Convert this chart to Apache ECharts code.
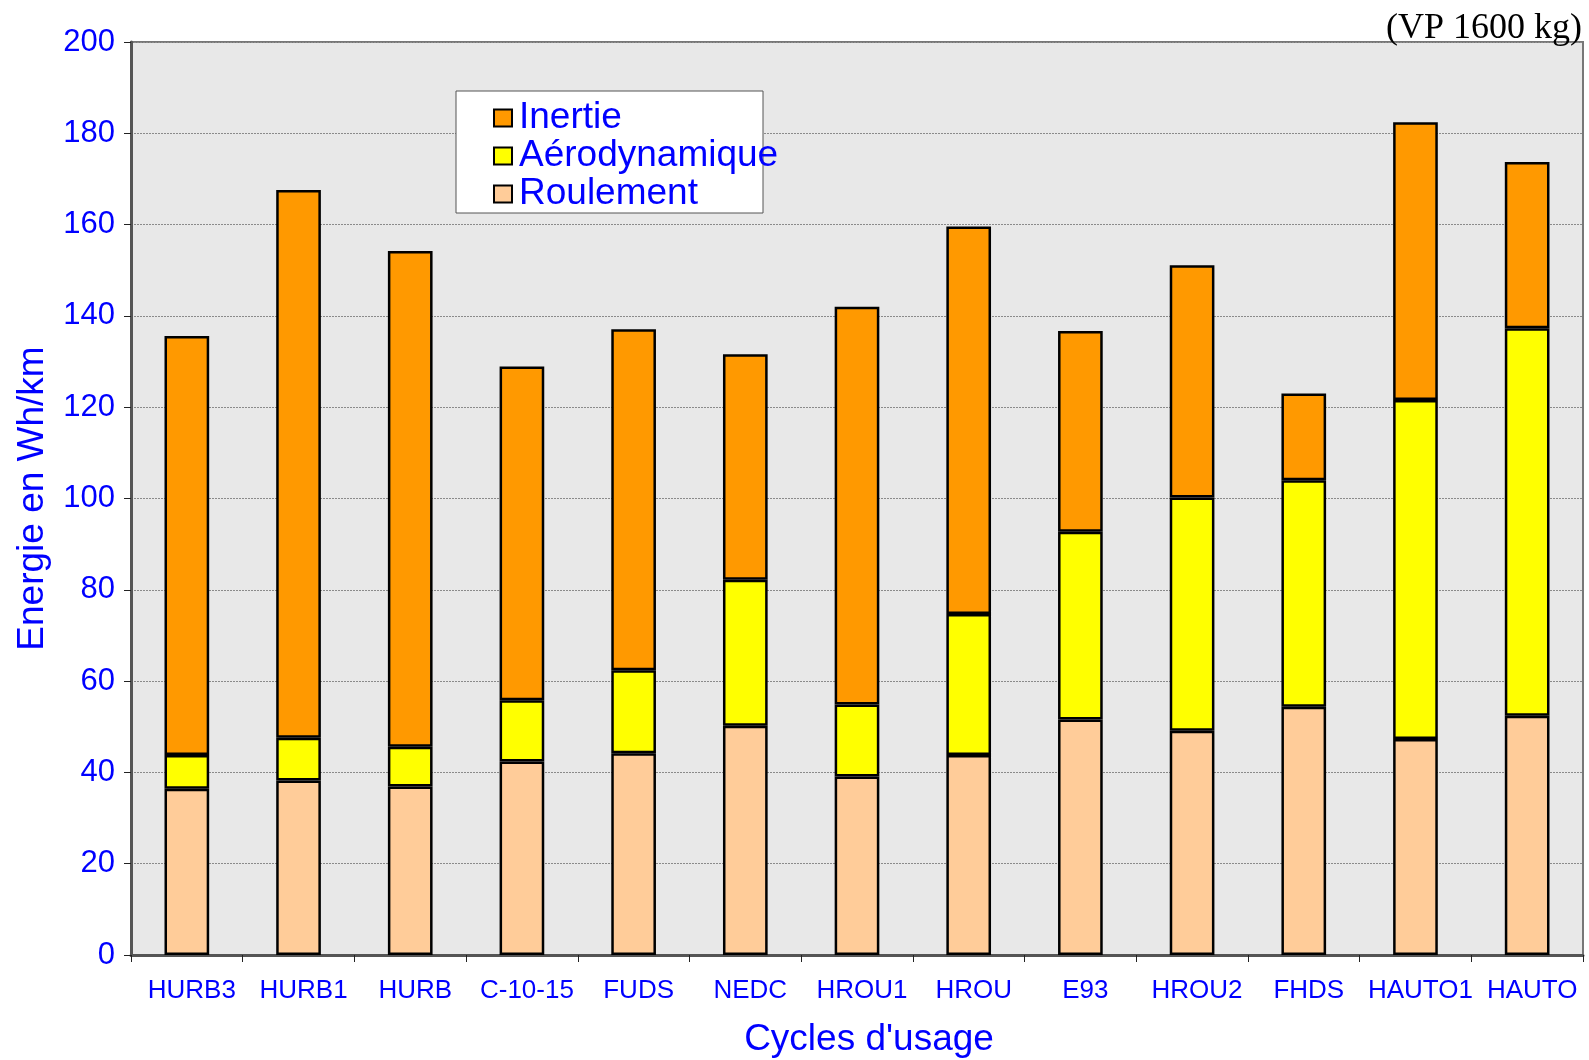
<!DOCTYPE html>
<html>
<head>
<meta charset="utf-8">
<title>Energie par cycle d'usage</title>
<script src="https://cdn.jsdelivr.net/npm/echarts@6/dist/echarts.min.js"></script>
<style>
  html, body { margin: 0; padding: 0; background: #ffffff; }
  #chart { width: 1589px; height: 1060px; }
</style>
</head>
<body>
<div id="chart"></div>
<script>
// Cycles d'usage (axe des abscisses)
const cycles = ['HURB3', 'HURB1', 'HURB', 'C-10-15', 'FUDS', 'NEDC', 'HROU1', 'HROU', 'E93', 'HROU2', 'FHDS', 'HAUTO1', 'HAUTO'];

// Energie cumulée en Wh/km, lue en haut de chaque segment
const totalRoulement = [36.4, 38.2, 36.9, 42.4, 44.2, 50.2, 39.1, 43.8, 51.6, 49.1, 54.4, 47.3, 52.4];
const totalAero      = [43.8, 47.6, 45.6, 55.8, 62.4, 82.2, 54.9, 74.7, 92.7, 100.2, 104.0, 121.6, 137.3];
const totalInertie   = [135.6, 167.6, 154.2, 128.9, 137.1, 131.6, 142.0, 159.6, 136.7, 151.1, 123.0, 182.4, 173.7];

// Part de chaque poste (différence entre niveaux cumulés)
const roulement = totalRoulement.map(v => +v.toFixed(1));
const aerodynamique = totalAero.map((v, i) => +(v - totalRoulement[i]).toFixed(1));
const inertie = totalInertie.map((v, i) => +(v - totalAero[i]).toFixed(1));

const yTicks = { min: 0, max: 200, interval: 20 };

const blue = '#0000ff';
const font = 'Liberation Sans, Arial, sans-serif';

const chart = echarts.init(document.getElementById('chart'), null, { renderer: 'canvas' });

const barStyle = (color) => ({ color: color, borderColor: '#000', borderWidth: 2.5 });

chart.setOption({
  animation: false,
  backgroundColor: '#ffffff',
  title: {
    text: '(VP 1600 kg)',
    right: 2,
    top: 6,
    textStyle: { fontFamily: 'Liberation Serif, Times New Roman, serif', fontSize: 36, fontWeight: 'normal', color: '#000' }
  },
  graphic: [
    {
      type: 'rect',
      z: 5,
      shape: { x: 456, y: 91, width: 307, height: 122 },
      style: { fill: '#ffffff', stroke: '#555', lineWidth: 1 }
    }
  ],
  legend: {
    z: 10,
    orient: 'vertical',
    left: 488,
    top: 94,
    itemGap: 0,
    itemWidth: 18,
    itemHeight: 17,
    icon: 'rect',
    data: ['Inertie', 'Aérodynamique', 'Roulement'],
    textStyle: { fontFamily: font, fontSize: 37, color: blue, lineHeight: 38, padding: [0, 0, 0, 2] },
    itemStyle: { borderColor: '#000', borderWidth: 2 }
  },
  grid: {
    left: 131,
    right: 6,
    top: 42,
    bottom: 105,
    outerBoundsMode: 'none',
    containLabel: false,
    show: true,
    backgroundColor: '#e8e8e8',
    borderColor: '#777',
    borderWidth: 2
  },
  xAxis: {
    type: 'category',
    data: cycles,
    name: "Cycles d'usage",
    nameLocation: 'middle',
    nameGap: 66,
    nameTextStyle: { fontFamily: font, fontSize: 37, color: blue, padding: [0, 0, 0, 24] },
    axisLine: { lineStyle: { color: '#555', width: 3 } },
    axisTick: { show: true, length: 7, lineStyle: { color: '#222', width: 1 } },
    axisLabel: { fontFamily: font, fontSize: 26, color: blue, margin: 23, interval: 0, padding: [0, 0, 0, 10] }
  },
  yAxis: {
    type: 'value',
    min: yTicks.min,
    max: yTicks.max,
    interval: yTicks.interval,
    name: 'Energie en Wh/km',
    nameLocation: 'middle',
    nameGap: 80,
    nameTextStyle: { fontFamily: font, fontSize: 37, color: blue },
    axisLine: { show: true, lineStyle: { color: '#555', width: 3 } },
    axisTick: { show: true, length: 7, lineStyle: { color: '#222', width: 1 } },
    axisLabel: { fontFamily: font, fontSize: 31, color: blue, margin: 16 },
    splitLine: { show: true, lineStyle: { color: '#8a8a8a', type: [2, 1], width: 1 } }
  },
  series: [
    { name: 'Roulement', type: 'bar', stack: 'e', data: roulement, barWidth: '40%', itemStyle: barStyle('#ffcc99') },
    { name: 'Aérodynamique', type: 'bar', stack: 'e', data: aerodynamique, barWidth: '40%', itemStyle: barStyle('#ffff00') },
    { name: 'Inertie', type: 'bar', stack: 'e', data: inertie, barWidth: '40%', itemStyle: barStyle('#ff9900') }
  ]
});
</script>
</body>
</html>
